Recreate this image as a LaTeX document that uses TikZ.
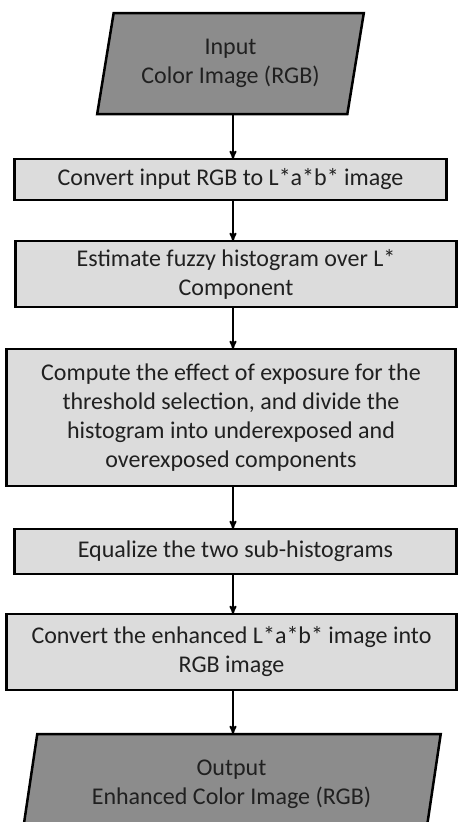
\documentclass[tikz,border=0pt]{standalone}
\usepackage{fontspec}
\setmainfont{Carlito}
\usetikzlibrary{shapes,arrows,positioning}
\definecolor{boxgray}{RGB}{220,220,220}
\definecolor{iogray}{RGB}{140,140,140}
\definecolor{txtgray}{RGB}{32,32,32}
\tikzset{
  stepbox/.style = {rectangle, draw=black, line width=2.5pt, fill=boxgray,
    align=center, inner sep=0pt, outer sep=0pt, text=txtgray,
    font=\fontsize{24}{29}\selectfont},% step of the method
  iobox/.style = {trapezium, trapezium left angle=#1, trapezium right angle=180-#1,
    trapezium stretches=true, draw=black, line width=2.5pt, fill=iogray,
    align=center, inner sep=0pt, outer sep=0pt, text=txtgray,
    font=\fontsize{24}{29}\selectfont}% input / output
}

\begin{document}
\begin{tikzpicture}[x=1pt,y=-1pt,>=stealth']
        \useasboundingbox (0,0) rectangle (458,822);
        \coordinate (spine) at (233,0);
        \node [iobox=75.5, minimum width=267pt, minimum height=101pt] (in) at (230.5,63.5)
            {Input\\Color Image (RGB)};
        \node [stepbox, minimum width=432pt, minimum height=41pt, below= 45pt of in] (rgb2lab)
            {Convert input RGB to L*a*b* image};
        \node [stepbox, minimum width=441pt, minimum height=66pt, below= 41pt of rgb2lab, xshift=5.5pt] (fuzzyhist)
            {Estimate fuzzy histogram over L*\\Component};
        \node [stepbox, minimum width=449pt, minimum height=137pt, below= 42pt of fuzzyhist, xshift=-5pt] (exposure)
            {Compute the effect of exposure for the\\threshold selection, and divide the\\histogram into underexposed and\\overexposed components};
        \node [stepbox, minimum width=442pt, minimum height=45pt, below= 43pt of exposure, xshift=4.5pt] (equalize)
            {Equalize the two sub-histograms};
        \node [stepbox, minimum width=450pt, minimum height=76pt, below= 40pt of equalize, xshift=-4pt] (lab2rgb)
            {Convert the enhanced L*a*b* image into\\RGB image};
        \node [iobox=77.5, minimum width=420pt, minimum height=101pt, below= 44pt of lab2rgb] (out)
            {Output\\Enhanced Color Image (RGB)};
        \foreach \a/\b in {in/rgb2lab, rgb2lab/fuzzyhist, fuzzyhist/exposure,
                           exposure/equalize, equalize/lab2rgb, lab2rgb/out}
            \draw [->, line width=1.8pt] (spine |- \a.south) -- (spine |- \b.north);
\end{tikzpicture}
\end{document}
